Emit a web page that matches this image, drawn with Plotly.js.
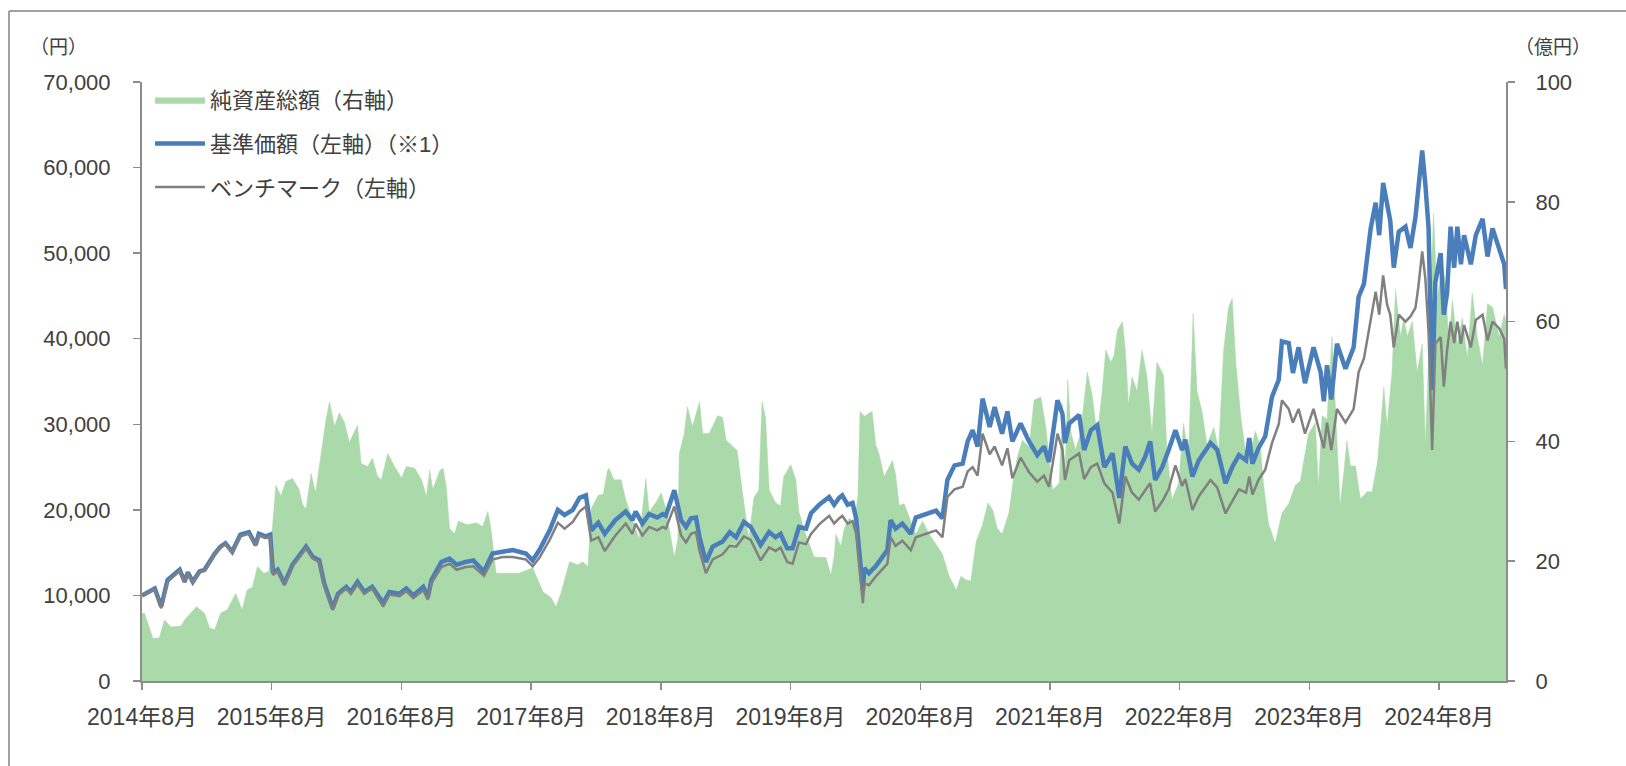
<!DOCTYPE html>
<html><head><meta charset="utf-8">
<script src="https://cdn.plot.ly/plotly-3.0.1.min.js"></script>
<style>html,body{margin:0;padding:0;background:#fff;} #chart{width:1626px;height:766px;}</style>
</head><body><div id="chart"></div>
<script>
// 基準価額 / ベンチマーク (円)
const navDates = ["2014-08-01","2014-09-06","2014-09-24","2014-10-12","2014-11-15","2014-11-29","2014-12-08","2014-12-22","2015-01-10","2015-01-24","2015-02-22","2015-03-10","2015-03-24","2015-04-12","2015-05-05","2015-05-29","2015-06-17","2015-06-26","2015-07-15","2015-07-28","2015-08-05","2015-08-18","2015-09-06","2015-09-29","2015-11-06","2015-11-25","2015-12-13","2015-12-27","2016-01-20","2016-02-04","2016-02-27","2016-03-11","2016-03-30","2016-04-18","2016-05-10","2016-06-10","2016-06-28","2016-07-26","2016-08-14","2016-09-03","2016-10-01","2016-10-14","2016-10-24","2016-11-21","2016-12-14","2017-01-03","2017-01-26","2017-02-19","2017-03-21","2017-04-14","2017-05-12","2017-06-10","2017-07-17","2017-08-05","2017-08-24","2017-09-22","2017-10-15","2017-11-03","2017-11-26","2017-12-15","2018-01-02","2018-01-17","2018-02-06","2018-02-24","2018-03-26","2018-04-24","2018-05-13","2018-05-22","2018-06-10","2018-06-29","2018-07-22","2018-08-06","2018-08-15","2018-09-08","2018-09-27","2018-10-11","2018-10-25","2018-11-08","2018-11-18","2018-12-06","2018-12-25","2019-01-22","2019-02-11","2019-03-01","2019-03-23","2019-04-11","2019-05-09","2019-06-02","2019-06-20","2019-07-04","2019-07-23","2019-08-07","2019-08-25","2019-09-14","2019-09-28","2019-10-21","2019-11-18","2019-12-02","2019-12-16","2019-12-25","2020-01-09","2020-01-23","2020-02-02","2020-02-16","2020-02-21","2020-02-25","2020-03-09","2020-03-28","2020-04-16","2020-04-30","2020-05-09","2020-05-23","2020-06-11","2020-07-05","2020-07-19","2020-08-16","2020-09-14","2020-10-02","2020-10-16","2020-11-05","2020-11-28","2020-12-12","2020-12-26","2021-01-09","2021-01-23","2021-02-12","2021-02-26","2021-03-19","2021-04-03","2021-04-17","2021-05-10","2021-06-03","2021-06-26","2021-07-15","2021-07-29","2021-08-22","2021-09-05","2021-09-12","2021-09-24","2021-10-22","2021-11-05","2021-11-24","2021-12-12","2022-01-01","2022-01-24","2022-02-12","2022-03-01","2022-03-20","2022-04-08","2022-04-26","2022-05-10","2022-05-24","2022-06-13","2022-07-01","2022-07-20","2022-08-08","2022-08-17","2022-09-06","2022-09-24","2022-10-27","2022-11-15","2022-12-08","2022-12-27","2023-01-15","2023-02-04","2023-02-13","2023-02-22","2023-03-11","2023-03-30","2023-04-18","2023-05-07","2023-05-16","2023-06-04","2023-06-16","2023-07-02","2023-07-20","2023-08-13","2023-09-02","2023-09-11","2023-09-20","2023-10-02","2023-10-18","2023-11-11","2023-12-04","2023-12-18","2024-01-02","2024-01-21","2024-02-04","2024-02-14","2024-02-25","2024-03-07","2024-03-16","2024-03-26","2024-04-09","2024-04-28","2024-05-12","2024-05-26","2024-06-03","2024-06-14","2024-06-23","2024-07-02","2024-07-12","2024-07-21","2024-08-05","2024-08-14","2024-08-23","2024-09-02","2024-09-12","2024-09-21","2024-10-01","2024-10-10","2024-10-29","2024-11-12","2024-12-01","2024-12-15","2024-12-29","2025-01-17","2025-01-31","2025-02-05"];
const navValues = [10000,10800,8700,11800,13000,11600,12700,11600,12800,13000,14900,15700,16100,15100,17100,17400,15900,17200,16900,17100,12600,13000,11400,13600,15700,14500,14100,11400,8500,10200,11000,10400,11600,10400,11000,9100,10400,10200,10800,10000,11000,9800,11800,13900,14300,13600,13900,14100,12800,14900,15100,15300,14900,14100,15300,17600,20000,19400,20000,21400,21700,17600,18500,17200,18800,19800,18800,19800,18400,19500,19100,19500,19300,22300,18800,18000,19000,19100,16800,13900,15700,16300,17400,16800,18600,18000,15900,17400,16800,17200,15500,15500,18000,17800,19600,20600,21500,20600,21400,21700,20600,20800,19000,13400,10600,13200,12600,13400,14500,15300,18800,17800,18400,17200,19100,19500,19900,19000,23500,25200,25400,28000,29300,27400,33000,29700,32000,28900,31500,28000,30100,28000,26400,27400,25600,32800,31200,27800,30100,31100,27000,29300,29900,25000,26600,21400,27400,25400,24700,26200,28000,23500,25000,27000,29300,27000,28200,23900,25800,27800,27000,23100,25000,26400,25800,28400,25400,27200,28600,33200,35200,39700,39500,36000,39000,34800,39000,36100,32700,36900,32900,39400,36500,39000,44900,46400,52900,55900,52100,58200,55500,53800,48300,52500,53100,50600,54200,57100,62000,58000,52900,34000,46600,50000,42800,45300,53100,48300,53100,48700,52100,48700,52100,54000,49600,52900,50400,48700,45800];
const benchmarkValues = [10000,10700,8500,11600,12900,11500,12600,11500,12700,12900,14800,15600,16000,15000,16900,17200,15800,17000,16700,16900,12400,12800,11200,13400,15500,14300,13900,11200,8300,10000,10800,10200,11300,10200,10800,8700,10100,9900,10500,9700,10600,9500,11400,13300,13700,13000,13300,13400,12300,14200,14500,14500,14200,13400,14400,16500,18500,17800,18600,19800,20400,16400,16800,15200,17000,18400,17200,18400,17000,18000,17600,18000,17800,20400,17000,16200,17200,17400,15200,12600,14200,14800,15800,15700,16900,16500,14100,15600,15200,15600,13900,13700,16200,16000,17200,18300,19300,18400,19000,19300,18400,18700,17200,11800,9100,11400,11200,12200,13000,13700,16800,15800,16400,15300,16800,17200,17600,16800,21500,22400,22700,24500,25000,24000,28900,26500,27400,25200,27200,23700,26100,24400,23300,24000,22700,28900,27000,23500,25800,26600,23600,25000,25400,23100,22000,18400,23900,22000,21200,22300,23100,19800,21000,22400,25200,22800,23600,20000,21600,23500,22600,19600,21000,22400,22000,23900,21800,23500,24700,27800,30000,32800,31800,30200,31800,28900,31800,28500,27200,30200,27000,31800,30200,31800,36100,37700,42000,45500,42800,47400,44000,42800,39000,42800,42000,42600,43600,46000,50200,47000,40700,27000,39400,40200,34400,38600,42000,39500,42000,39400,41600,39000,42200,42800,39800,42000,41200,40000,36500];
// 純資産総額 (億円)
const assetDates = ["2014-08-01","2014-08-08","2014-09-01","2014-09-19","2014-10-03","2014-10-22","2014-11-19","2014-11-29","2015-01-01","2015-01-24","2015-02-08","2015-02-22","2015-03-10","2015-03-29","2015-04-22","2015-05-10","2015-05-24","2015-06-08","2015-06-22","2015-07-10","2015-07-24","2015-08-04","2015-08-13","2015-08-27","2015-09-10","2015-09-29","2015-10-17","2015-10-27","2015-11-06","2015-11-20","2015-12-03","2015-12-17","2016-01-01","2016-01-11","2016-01-25","2016-02-08","2016-02-22","2016-03-07","2016-03-30","2016-04-09","2016-04-27","2016-05-11","2016-05-25","2016-06-05","2016-06-23","2016-07-12","2016-08-01","2016-08-14","2016-09-07","2016-09-26","2016-10-10","2016-10-19","2016-10-28","2016-11-17","2016-11-26","2016-12-05","2016-12-14","2016-12-28","2017-01-08","2017-02-01","2017-02-28","2017-03-17","2017-04-01","2017-04-10","2017-04-24","2017-06-28","2017-08-05","2017-09-03","2017-09-26","2017-10-10","2017-10-24","2017-11-17","2017-12-10","2017-12-24","2018-01-08","2018-01-17","2018-02-06","2018-02-20","2018-03-04","2018-03-08","2018-03-22","2018-04-11","2018-04-24","2018-05-13","2018-06-01","2018-06-20","2018-06-29","2018-07-18","2018-08-02","2018-08-15","2018-08-30","2018-09-08","2018-09-18","2018-09-22","2018-10-06","2018-10-15","2018-10-29","2018-11-18","2018-11-27","2018-12-15","2019-01-08","2019-01-22","2019-02-01","2019-02-20","2019-03-04","2019-03-18","2019-04-06","2019-04-20","2019-05-04","2019-05-13","2019-05-23","2019-06-02","2019-06-20","2019-07-04","2019-07-13","2019-08-02","2019-08-16","2019-08-25","2019-09-14","2019-10-07","2019-11-09","2019-11-23","2019-12-02","2019-12-07","2019-12-21","2019-12-31","2020-01-14","2020-01-28","2020-02-07","2020-02-13","2020-02-25","2020-03-09","2020-03-18","2020-03-28","2020-04-07","2020-04-21","2020-05-05","2020-05-14","2020-05-23","2020-06-02","2020-06-16","2020-07-01","2020-07-19","2020-08-07","2020-08-26","2020-09-14","2020-10-02","2020-10-21","2020-11-10","2020-11-23","2020-12-07","2020-12-21","2021-01-05","2021-01-23","2021-02-07","2021-02-21","2021-03-05","2021-03-19","2021-04-07","2021-04-21","2021-05-01","2021-05-15","2021-06-03","2021-06-17","2021-07-06","2021-07-20","2021-08-08","2021-08-27","2021-09-05","2021-09-12","2021-09-20","2021-09-29","2021-10-12","2021-10-26","2021-11-14","2021-11-28","2021-12-12","2021-12-26","2022-01-05","2022-01-19","2022-01-28","2022-02-07","2022-02-21","2022-03-01","2022-03-10","2022-03-20","2022-04-03","2022-04-17","2022-05-01","2022-05-15","2022-05-29","2022-06-17","2022-06-26","2022-07-10","2022-07-29","2022-08-12","2022-08-26","2022-09-08","2022-09-19","2022-10-03","2022-10-17","2022-11-05","2022-11-19","2022-12-03","2022-12-17","2022-12-27","2023-01-06","2023-01-20","2023-02-04","2023-02-18","2023-03-02","2023-03-16","2023-03-25","2023-04-08","2023-04-27","2023-05-16","2023-06-04","2023-06-23","2023-07-07","2023-07-16","2023-07-30","2023-08-18","2023-08-27","2023-09-06","2023-09-20","2023-10-04","2023-10-13","2023-10-27","2023-11-06","2023-11-15","2023-11-25","2023-12-09","2023-12-23","2024-01-11","2024-01-25","2024-02-09","2024-02-18","2024-02-27","2024-03-07","2024-03-21","2024-03-31","2024-04-14","2024-04-23","2024-05-03","2024-05-17","2024-05-31","2024-06-14","2024-06-23","2024-07-02","2024-07-16","2024-07-26","2024-08-09","2024-08-18","2024-08-28","2024-09-07","2024-09-21","2024-10-05","2024-10-19","2024-11-02","2024-11-16","2024-12-01","2024-12-15","2024-12-29","2025-01-17","2025-01-31","2025-02-05"];
const assetValues = [11.3,11.3,7.1,7.2,10.2,9.0,9.2,10.2,12.4,11.3,8.8,8.6,11.3,11.9,14.6,11.9,15.2,15.7,19.1,18.0,18.3,26.9,32.7,30.9,33.3,33.8,32.0,29.5,28.7,34.7,31.4,37.4,43.6,46.6,42.5,44.8,43.2,39.8,42.7,36.3,35.8,37.2,34.2,33.6,38.0,35.8,33.9,35.8,35.5,33.6,30.8,35.2,32.0,35.2,35.5,32.3,25.5,24.6,26.7,26.1,26.4,25.8,28.3,25.3,18.0,18.0,18.9,14.9,13.9,12.4,14.7,19.9,19.4,19.9,19.1,28.8,31.0,31.2,35.2,35.5,33.6,33.6,30.3,27.0,23.7,33.8,28.2,29.8,31.4,28.8,23.4,20.6,23.7,38.0,41.3,45.8,42.5,46.6,41.3,41.3,44.3,44.0,40.2,39.1,38.5,31.9,23.7,30.6,31.9,46.6,44.0,31.9,29.8,29.2,34.1,36.1,33.6,28.2,24.3,20.7,20.6,17.7,20.7,24.5,22.5,25.5,27.2,26.1,31.0,45.0,44.2,44.7,45.0,39.5,37.8,34.1,35.7,36.8,34.6,29.3,29.6,27.2,24.5,26.7,24.5,22.8,21.2,17.5,15.2,17.5,16.9,16.7,23.3,26.1,29.7,28.5,25.5,24.5,28.0,34.1,37.4,40.2,39.1,46.9,47.4,42.5,31.9,33.0,46.4,33.0,50.3,41.4,38.6,41.4,51.6,47.6,40.8,48.4,55.3,53.2,54.3,58.6,60.0,55.3,46.1,50.8,48.4,55.3,50.8,41.4,53.2,51.0,38.6,30.2,33.0,43.0,37.4,61.4,48.4,45.0,39.5,42.3,38.6,55.3,62.5,63.9,53.2,44.2,37.4,38.6,41.7,39.3,33.0,26.3,23.0,28.0,29.6,32.7,33.4,36.5,41.3,43.1,32.3,44.3,43.7,57.5,46.7,29.2,34.7,40.1,35.9,35.9,30.4,31.6,31.6,36.5,42.5,49.1,42.5,51.5,65.4,57.5,60.6,57.5,60.0,51.5,56.3,39.3,54.5,78.0,63.6,69.6,66.6,56.3,63.6,56.3,60.6,53.9,64.8,57.5,52.7,63.0,62.4,57.5,61.2,60.0];
const tickYears = [2014,2015,2016,2017,2018,2019,2020,2021,2022,2023,2024];
const tickDates = tickYears.map(y => y + "-08-01");
const tickLabels = tickYears.map(y => y + "年8月");
const seriesNames = ["純資産総額（右軸）", "基準価額（左軸）（※1）", "ベンチマーク（左軸）"];

const W = 1626, H = 766, L = 142, R = 120, T = 82, B = 85;
const pw = W - L - R, ph = H - T - B;
const px = v => (v - L) / pw;
const py = v => (H - B - v) / ph;

const FONT = '"Liberation Sans", Arial, "Noto Sans CJK JP", sans-serif';
const TXT = '#404040';
const AX = '#8c8c8c';

// The area (right axis) lives on the base y axis so that the overlaying
// left-axis lines are drawn on top of it.
const traces = [
  {x: assetDates, y: assetValues, name: seriesNames[0], type: 'scatter', mode: 'lines',
   yaxis: 'y', fill: 'tozeroy', fillcolor: '#aad9aa', line: {color: '#aad9aa', width: 0.5},
   legendgroup: 'a', hoverinfo: 'skip'},
  {x: navDates, y: navValues, name: seriesNames[1], type: 'scatter', mode: 'lines', yaxis: 'y2',
   line: {color: '#4a7ebb', width: 4.5}, legendgroup: 'b', hoverinfo: 'skip'},
  {x: navDates, y: benchmarkValues, name: seriesNames[2], type: 'scatter', mode: 'lines', yaxis: 'y2',
   line: {color: '#808080', width: 2.5}, legendgroup: 'c', hoverinfo: 'skip'}
];

const axCommon = {showgrid: false, zeroline: false, showline: true, linecolor: AX, linewidth: 2,
                  ticks: 'outside', ticklen: 7, tickcolor: AX, tickwidth: 1.5,
                  tickfont: {size: 22, color: TXT}};

const layout = {
  width: W, height: H,
  margin: {l: L, r: R, t: T, b: B, pad: 0},
  paper_bgcolor: '#ffffff', plot_bgcolor: '#ffffff',
  font: {family: FONT, color: TXT, size: 20},
  showlegend: true,
  legend: {x: px(150), y: py(79), xanchor: 'left', yanchor: 'top', bgcolor: 'rgba(0,0,0,0)',
           font: {size: 22, color: TXT}, tracegroupgap: 12, traceorder: 'grouped', itemwidth: 50},
  xaxis: Object.assign({}, axCommon, {type: 'date', range: ['2014-08-01', '2025-02-05'], tickmode: 'array',
          tickvals: tickDates, ticktext: tickLabels, tickfont: {size: 23, color: TXT}, ticklabelstandoff: 7}),
  yaxis: Object.assign({}, axCommon, {range: [0, 100], tickmode: 'linear', tick0: 0, dtick: 20,
          side: 'right', ticklabelstandoff: 16}),
  yaxis2: Object.assign({}, axCommon, {range: [0, 70000], tickmode: 'linear', tick0: 0, dtick: 10000,
          tickformat: ',d', overlaying: 'y', side: 'left', ticklabelstandoff: 18}),
  annotations: [
    {text: '（円）', xref: 'paper', yref: 'paper', x: px(58), y: py(47), xanchor: 'center', yanchor: 'middle',
     showarrow: false, font: {size: 19, color: TXT}},
    {text: '（億円）', xref: 'paper', yref: 'paper', x: px(1553), y: py(47), xanchor: 'center', yanchor: 'middle',
     showarrow: false, font: {size: 19, color: TXT}}
  ],
  shapes: [
    {type: 'line', xref: 'paper', yref: 'paper', x0: px(9), x1: px(9), y0: py(H + 5), y1: py(11),
     line: {color: '#a0a0a0', width: 2}},
    {type: 'line', xref: 'paper', yref: 'paper', x0: px(9), x1: px(W + 5), y0: py(11), y1: py(11),
     line: {color: '#a0a0a0', width: 2}}
  ]
};

Plotly.newPlot('chart', traces, layout, {staticPlot: true, displayModeBar: false});
</script></body></html>
